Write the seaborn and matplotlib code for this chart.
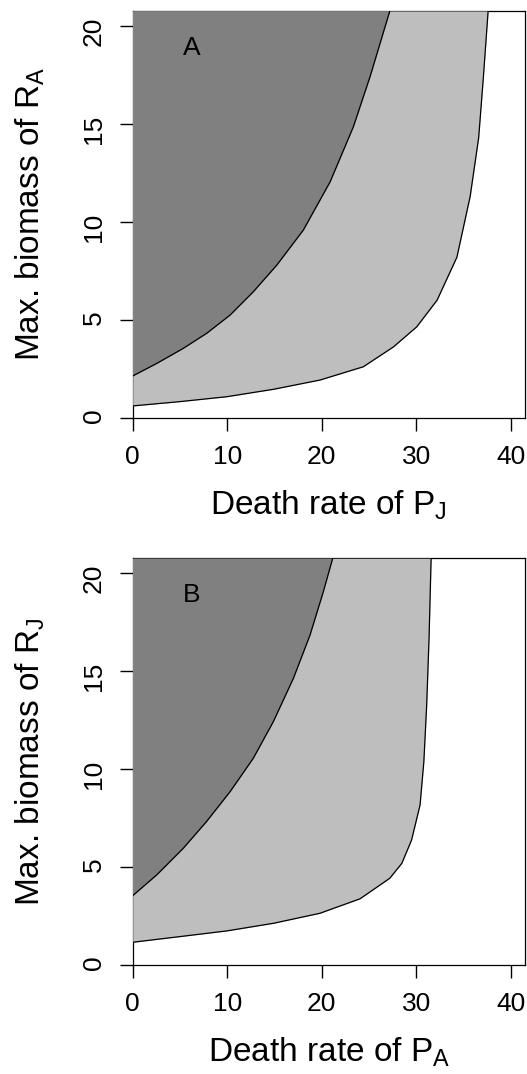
import numpy as np
import seaborn as sns
import matplotlib.pyplot as plt

# panel A: death rate of P_J vs max. biomass of R_A
a_upper_x = [0.0, 2.54, 5.35, 7.83, 10.3, 12.76, 15.24, 18.05, 20.88, 23.34, 25.1, 27.2]
a_upper_y = [2.13, 2.77, 3.54, 4.31, 5.24, 6.43, 7.79, 9.58, 12.04, 14.85, 17.4, 20.77]
a_lower_x = [0.0, 5.0, 9.95, 14.9, 19.8, 24.4, 27.6, 30.05, 32.2, 34.3, 35.7, 36.6, 37.1, 37.6]
a_lower_y = [0.6, 0.82, 1.07, 1.45, 1.92, 2.6, 3.62, 4.64, 6.0, 8.2, 11.3, 14.3, 17.4, 20.77]

# panel B: death rate of P_A vs max. biomass of R_J
b_upper_x = [0.0, 2.54, 5.35, 7.8, 10.3, 12.76, 14.88, 17.0, 18.76, 20.17, 21.16]
b_upper_y = [3.54, 4.6, 5.96, 7.32, 8.85, 10.56, 12.43, 14.64, 16.85, 19.07, 20.77]
b_lower_x = [0.0, 5.0, 9.95, 14.9, 19.8, 24.05, 27.2, 28.47, 29.5, 30.4, 30.8, 31.1, 31.35, 31.57]
b_lower_y = [1.16, 1.45, 1.74, 2.13, 2.64, 3.38, 4.43, 5.19, 6.38, 8.17, 10.38, 13.28, 16.68, 20.77]

x_ticks = [0, 10, 20, 30, 40]
y_ticks = [0, 5, 10, 15, 20]
XMAX = 41.5
YMAX = 20.77

DARK = "#808080"
LIGHT = "#bebebe"

sns.set_theme(style="ticks")
plt.rcParams['font.family'] = ['Liberation Sans', 'DejaVu Sans']
plt.rcParams['mathtext.fontset'] = 'custom'
plt.rcParams['mathtext.rm'] = 'Liberation Sans'
plt.rcParams['mathtext.it'] = 'Liberation Sans'

fig = plt.figure(figsize=(5.27, 10.74), dpi=100)
ax_a = fig.add_axes([0.2518, 0.6111, 0.7444, 0.3787])
ax_b = fig.add_axes([0.2518, 0.1015, 0.7444, 0.3787])

panels = [
    (ax_a, a_upper_x, a_upper_y, a_lower_x, a_lower_y, "A",
     r"Death rate of P$_\mathrm{J}$", r"Max. biomass of R$_\mathrm{A}$"),
    (ax_b, b_upper_x, b_upper_y, b_lower_x, b_lower_y, "B",
     r"Death rate of P$_\mathrm{A}$", r"Max. biomass of R$_\mathrm{J}$"),
]

for ax, ux, uy, lx, ly, letter, xlab, ylab in panels:
    # light region above the lower curve, dark region above the upper curve
    ax.fill_between(lx, ly, YMAX, color=LIGHT, lw=0, zorder=3)
    ax.fill_between(ux, uy, YMAX, color=DARK, lw=0, zorder=3)
    sns.lineplot(x=lx, y=ly, ax=ax, color="black", lw=0.9, sort=False, zorder=4)
    sns.lineplot(x=ux, y=uy, ax=ax, color="black", lw=0.9, sort=False, zorder=4)

    ax.set_xlim(0, XMAX)
    ax.set_ylim(0, YMAX)
    ax.set_xticks(x_ticks)
    ax.set_yticks(y_ticks)
    ax.tick_params(axis='both', direction='out', length=9.5, width=1.0,
                   labelsize=19, color="black", labelcolor="black", pad=10)
    ax.tick_params(axis='y', labelrotation=90)
    for s in ax.spines.values():
        s.set_visible(True)
        s.set_linewidth(0.9)
        s.set_color("black")
    ax.set_xlabel(xlab, fontsize=24, labelpad=14, color="black")
    ax.set_ylabel(ylab, fontsize=24, labelpad=25, color="black")
    ax.text(6.2, 18.9, letter, ha='center', va='center', fontsize=19,
            color="black", zorder=5)

fig.savefig("out.png", dpi=100)
